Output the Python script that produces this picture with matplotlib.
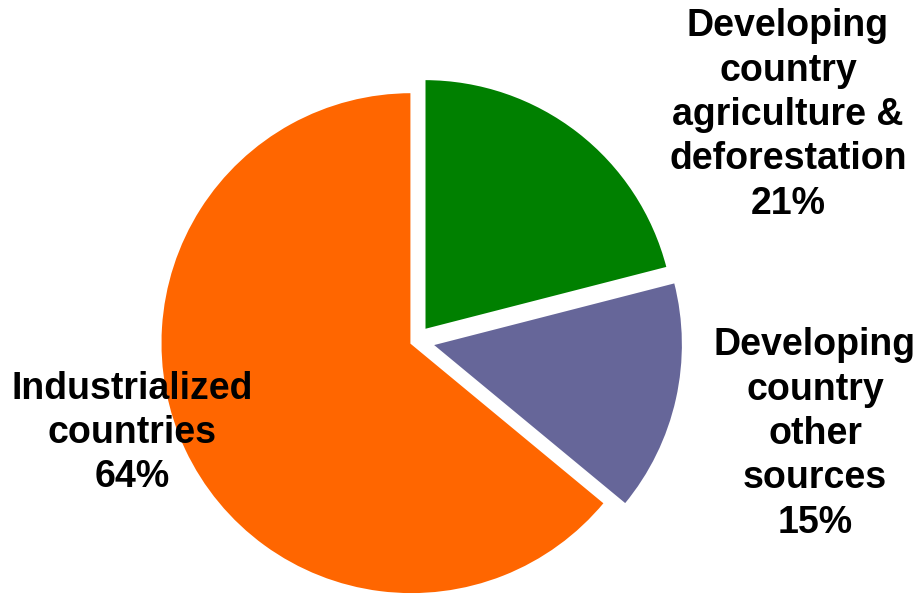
import matplotlib
matplotlib.use("Agg")
import matplotlib.pyplot as plt

# dados do gráfico (fatias no sentido horário a partir do topo)
categorias = ["Developing\ncountry\nagriculture &\ndeforestation",
              "Developing\ncountry\nother\nsources",
              "Industrialized\ncountries"]
percentuais = [21, 15, 64]
cores = ["#008000", "#666699", "#FF6600"]
destaque = [0.055, 0.065, 0.02]

# posições dos rótulos (pixels da figura, centro do texto)
pos_rotulos = [(788, 115), (815, 434), (132, 433)]

W, H = 919, 594
fig = plt.figure(figsize=(W / 100, H / 100), dpi=100)
ax = fig.add_axes([0, 0, 1, 1])

ax.pie(percentuais, colors=cores, startangle=90, counterclock=False,
       explode=destaque, radius=1.0,
       wedgeprops=dict(edgecolor="white", linewidth=1.5))

# centro da pizza em ~(416, 341) px, raio ~251 px
cx, cy, r = 416, 341, 251
ax.set_xlim(-cx / r, (W - cx) / r)
ax.set_ylim(-(H - cy) / r, cy / r)
ax.set_aspect("equal")
ax.axis("off")

for nome, p, (px, py) in zip(categorias, percentuais, pos_rotulos):
    fig.text(px / W, 1 - py / H, f"{nome}\n{p}%", ha="center", va="center",
             fontsize=27, fontweight="bold", family="Liberation Sans",
             linespacing=1.3, color="black")

fig.savefig("out.png", dpi=100)
